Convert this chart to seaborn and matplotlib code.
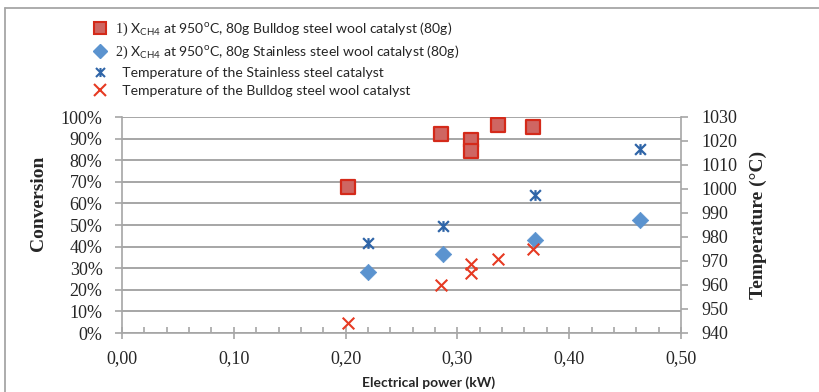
import numpy as np
import pandas as pd
import matplotlib
matplotlib.use("Agg")
import matplotlib.pyplot as plt
from matplotlib.path import Path
from matplotlib.ticker import MultipleLocator, FuncFormatter
from matplotlib.lines import Line2D
import seaborn as sns

# ---- data ----
power_bulldog = [0.202, 0.285, 0.312, 0.312, 0.336, 0.368]
conv_bulldog = [0.674, 0.919, 0.895, 0.842, 0.961, 0.952]
temp_bulldog = [944.3, 960.0, 968.8, 964.9, 971.0, 974.9]

power_stainless = [0.220, 0.287, 0.369, 0.463]
conv_stainless = [0.283, 0.364, 0.430, 0.522]
temp_stainless = [977.6, 984.7, 997.5, 1016.8]

labels = [
    r"$\mathrm{1)}$ X$_{\mathsf{CH4}}$ at 950$^{\mathsf{o}}$C, 80g Bulldog steel wool catalyst (80g)",
    r"$\mathrm{2)}$ X$_{\mathsf{CH4}}$ at 950$^{\mathsf{o}}$C, 80g Stainless steel wool catalyst (80g)",
    "  Temperature of the Stainless steel catalyst",
    "  Temperature of the Bulldog steel wool catalyst",
]

sns.set_theme(style="white")
plt.rcParams["font.family"] = ["Liberation Serif", "DejaVu Serif"]
plt.rcParams["mathtext.fontset"] = "custom"
plt.rcParams["mathtext.rm"] = "Liberation Serif"
plt.rcParams["mathtext.sf"] = "Lato"

GRID = "#a6a6a6"
RED_EDGE = "#d42a1a"
RED_FILL = "#cf6662"
BLUE = "#5b93cf"
DBLUE = "#2f65a8"
REDX = "#e63a22"

# star marker: X plus vertical bar
star = Path([(-1, -1), (1, 1), (-1, 1), (1, -1), (0, -1), (0, 1)],
            [Path.MOVETO, Path.LINETO, Path.MOVETO, Path.LINETO, Path.MOVETO, Path.LINETO])

fig = plt.figure(figsize=(8.19, 3.92), dpi=100)
ax = fig.add_axes([122/819, 1-333/392, (681-122)/819, (333-117)/392])
ax2 = ax.twinx()

df_b = pd.DataFrame({"p": power_bulldog, "c": conv_bulldog, "t": temp_bulldog})
df_s = pd.DataFrame({"p": power_stainless, "c": conv_stainless, "t": temp_stainless})

sns.scatterplot(data=df_b, x="p", y="c", ax=ax, marker="s", s=115, color=RED_FILL,
                edgecolor=RED_EDGE, linewidth=1.6, zorder=3, legend=False)
sns.scatterplot(data=df_s, x="p", y="c", ax=ax, marker="D", s=70, color=BLUE,
                edgecolor=BLUE, linewidth=0.5, zorder=3, legend=False)
sns.scatterplot(data=df_s, x="p", y="t", ax=ax2, marker=star, s=60, color=DBLUE,
                edgecolor=DBLUE, linewidth=1.6, zorder=3, legend=False)
sns.scatterplot(data=df_b, x="p", y="t", ax=ax2, marker="x", s=70, color=REDX,
                linewidth=1.5, zorder=3, legend=False)

ax.set_xlim(0, 0.5)
ax.set_ylim(0, 1.0)
ax2.set_ylim(940, 1030)

ax.xaxis.set_major_locator(MultipleLocator(0.1))
ax.xaxis.set_minor_locator(MultipleLocator(0.02))
ax.xaxis.set_major_formatter(FuncFormatter(lambda v, p: f"{v:.2f}".replace(".", ",")))
ax.yaxis.set_major_locator(MultipleLocator(0.1))
ax.yaxis.set_major_formatter(FuncFormatter(lambda v, p: f"{v*100:.0f}%"))
ax2.yaxis.set_major_locator(MultipleLocator(10))

ax.grid(axis="y", color=GRID, linewidth=1.4)
ax.grid(axis="x", visible=False)
ax.set_axisbelow(True)

for a in (ax, ax2):
    for s in a.spines.values():
        s.set_color(GRID)
        s.set_linewidth(1.2)
    a.spines["top"].set_visible(False)
ax.spines["right"].set_visible(False)
ax2.spines["left"].set_visible(False)
ax2.spines["bottom"].set_visible(False)

ax.tick_params(axis="y", which="major", direction="out", length=5, width=1.2, color=GRID,
               labelsize=13, pad=9, left=True)
ax.tick_params(axis="x", which="major", direction="inout", length=9, width=1.2, color=GRID,
               labelsize=13, pad=8, bottom=True)
ax.tick_params(axis="x", which="minor", direction="in", length=4, width=1.2, color=GRID,
               bottom=True)
ax2.tick_params(axis="y", which="major", direction="out", length=5, width=1.2, color=GRID,
                labelsize=13, pad=10, right=True)

ax.set_xlabel("Electrical power (kW)", fontfamily="Lato", fontweight="bold", fontsize=10)
ax.xaxis.set_label_coords(0.549, -0.2)
ax.set_ylabel("Conversion", fontweight="bold", fontsize=14)
ax.yaxis.set_label_coords(-0.135, 0.6)
ax2.set_ylabel("Temperature (°C)", fontweight="bold", fontsize=14)
ax2.yaxis.set_label_coords(1.122, 0.5)

handles = [
    Line2D([], [], linestyle="none", marker="s", markersize=9, markerfacecolor=RED_FILL,
           markeredgecolor=RED_EDGE, markeredgewidth=1.5),
    Line2D([], [], linestyle="none", marker="D", markersize=7, markerfacecolor=BLUE,
           markeredgecolor=BLUE),
    Line2D([], [], linestyle="none", marker=star, markersize=6.5, color=DBLUE,
           markeredgewidth=1.5),
    Line2D([], [], linestyle="none", marker="x", markersize=8, color=REDX,
           markeredgewidth=1.5),
]
leg = fig.legend(handles, labels, loc="upper left", bbox_to_anchor=(93/819, 1-21/392),
                 frameon=False, handlelength=1.0, handletextpad=0.6, labelspacing=0.4,
                 borderpad=0, borderaxespad=0,
                 prop={"family": "Lato", "size": 10.1})

# chart-area border (top and left edges)
fig.add_artist(Line2D([5/819, 1.0], [1-8/392, 1-8/392], color=GRID, linewidth=1.3,
                      transform=fig.transFigure))
fig.add_artist(Line2D([5/819, 5/819], [0, 1-8/392], color=GRID, linewidth=1.3,
                      transform=fig.transFigure))

fig.savefig("out.png", dpi=100)
